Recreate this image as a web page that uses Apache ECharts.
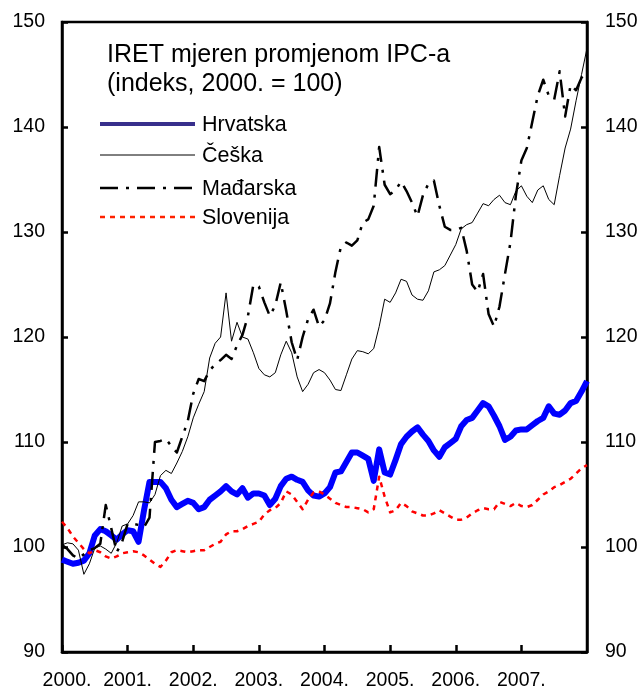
<!DOCTYPE html>
<html>
<head>
<meta charset="utf-8">
<script src="https://cdn.jsdelivr.net/npm/echarts/dist/echarts.min.js"></script>
<style>html,body{margin:0;padding:0;background:#fff}#c{width:641px;height:693px}</style>
</head>
<body>
<div id="c"></div>
<script>
const yearLabels = ['2000.','2001.','2002.','2003.','2004.','2005.','2006.','2007.'];
const yTicks = [90,100,110,120,130,140,150];
const titleLines = ['IRET mjeren promjenom IPC-a','(indeks, 2000. = 100)'];
const seriesNames = ['Hrvatska','Češka','Mađarska','Slovenija'];

const hrvatska = [98.8,98.6,98.4,98.5,98.7,99.4,101.1,101.7,101.5,101.1,100.7,101.2,101.6,101.5,100.5,103.5,
106.2,106.2,106.2,105.6,104.5,103.8,104.1,104.4,104.2,103.6,103.8,104.5,104.9,105.3,105.8,105.3,
105.0,105.6,104.7,105.1,105.1,104.9,104.0,104.6,105.8,106.5,106.7,106.4,106.2,105.4,104.9,104.8,
105.1,105.7,107.1,107.2,108.1,109.0,109.0,108.7,108.4,106.3,109.3,107.1,106.9,108.3,109.8,110.5,
111.0,111.4,110.7,110.1,109.2,108.6,109.5,109.9,110.3,111.5,112.1,112.3,113.0,113.7,113.4,112.5,
111.5,110.2,110.5,111.1,111.2,111.2,111.6,112.0,112.3,113.4,112.7,112.6,113.0,113.7,113.9,114.8,115.8];

const ceska = [100.2,100.4,100.3,99.7,97.4,98.4,99.9,100.1,99.8,99.4,100.4,102.0,102.2,103.0,104.3,104.3,
104.2,105.0,106.8,107.3,107.0,108.0,109.1,110.5,112.3,113.6,114.8,118.0,119.4,120.0,124.2,119.6,
121.4,120.0,119.8,118.5,117.0,116.4,116.2,116.6,118.3,119.6,118.5,116.2,114.8,115.5,116.6,116.9,
116.6,115.9,115.0,114.9,116.4,117.9,118.7,118.6,118.4,118.9,121.0,123.6,123.3,124.2,125.5,125.3,
124.0,123.6,123.5,124.4,126.2,126.4,126.8,127.8,128.8,130.3,130.7,130.9,131.8,132.7,132.5,133.1,
133.5,132.8,132.6,133.9,134.4,133.4,132.8,134.0,134.4,133.1,132.6,135.4,138.0,139.8,142.5,145.0,147.5];

const madarska = [100.2,99.8,99.2,98.9,99.3,99.7,99.9,100.3,104.0,101.8,99.5,100.5,102.2,102.2,102.1,101.9,
102.8,110.0,110.1,110.3,109.6,109.0,110.5,112.0,114.6,116.0,115.8,116.8,117.4,117.8,118.3,117.9,
119.2,120.2,122.0,125.0,124.8,123.3,122.0,123.0,125.2,122.5,119.5,117.8,120.0,121.7,122.6,121.0,
121.6,123.2,126.2,128.6,129.0,128.7,129.2,130.9,131.2,132.5,138.1,134.5,133.6,134.0,134.8,133.9,
132.8,131.5,133.5,134.6,134.9,132.5,130.5,130.2,130.2,130.4,128.2,125.0,124.3,126.0,122.2,121.0,
122.9,126.0,129.0,133.5,136.8,138.0,140.5,143.0,144.5,143.0,142.6,145.3,141.0,144.0,143.5,144.7,145.3];

const slovenija = [102.4,101.8,101.0,100.4,99.8,99.4,99.7,99.5,99.1,98.9,99.1,99.4,99.5,99.6,99.5,99.2,
98.8,98.4,98.1,98.7,99.5,99.7,99.6,99.5,99.6,99.7,99.7,100.0,100.3,100.5,101.2,101.5,
101.5,101.7,102.0,102.2,102.4,103.1,103.5,103.7,104.2,105.3,105.0,104.3,103.6,104.5,105.2,105.3,
105.0,104.6,104.2,104.0,103.8,103.8,103.7,103.6,103.3,103.6,106.7,104.8,103.3,103.5,104.2,103.9,
103.4,103.2,103.0,103.0,103.2,103.5,103.2,102.9,102.6,102.6,102.8,103.2,103.5,103.7,103.6,103.6,
104.3,104.1,103.9,104.2,103.9,103.8,104.0,104.5,105.0,105.3,105.7,105.9,106.2,106.5,107.0,107.5,107.8];

const toPairs = arr => arr.map((v, i) => [i, v]);

const FONT = '"Liberation Sans", Arial, sans-serif';
const styles = [
  {color:'#0000ff', width:6, type:'solid', legendColor:'#382f8c', legendWidth:4},
  {color:'#000000', width:1, type:'solid', legendColor:'#000000', legendWidth:1},
  {color:'#000000', width:2.5, type:[18,8,3,8], legendColor:'#000000', legendWidth:2.5},
  {color:'#ff0000', width:2.5, type:[5,5], legendColor:'#ff2200', legendWidth:2.5}
];
const dataSets = [hrvatska, ceska, madarska, slovenija];
const legendY = [124, 155, 188, 217];

const chart = echarts.init(document.getElementById('c'), null, {renderer:'canvas'});

const yAxisCommon = {
  type:'value', min:90, max:150, interval:10,
  axisLine:{show:true, lineStyle:{color:'#000', width:2.5}},
  axisTick:{show:true, inside:true, length:6, lineStyle:{color:'#000', width:2.5}},
  splitLine:{show:false},
  axisLabel:{color:'#000', fontSize:19.5, fontFamily:FONT}
};

const graphics = [];
seriesNames.forEach((name, k) => {
  graphics.push({
    type:'line', shape:{x1:100, y1:legendY[k], x2:195, y2:legendY[k]},
    style:{stroke:styles[k].legendColor, lineWidth:styles[k].legendWidth,
      lineDash: Array.isArray(styles[k].type) ? styles[k].type : null}
  });
  graphics.push({
    type:'text', x:202, y:legendY[k] + 1,
    style:{text:name, fill:'#000', font:'21.5px ' + FONT, verticalAlign:'middle', align:'left'}
  });
});

chart.setOption({
  animation:false,
  backgroundColor:'#fff',
  title:{
    text: titleLines.join('\n'),
    left:107, top:41, padding:0,
    textStyle:{fontSize:25, fontWeight:'normal', color:'#000', fontFamily:FONT, lineHeight:29}
  },
  grid:{left:62, right:54, top:22, bottom:41, show:true, borderColor:'#000', borderWidth:2.5, backgroundColor:'transparent'},
  xAxis:{
    type:'value', min:0, max:96, interval:12,
    axisLine:{show:true, lineStyle:{color:'#000', width:2.5}},
    axisTick:{show:true, inside:true, length:7, lineStyle:{color:'#000', width:2.5}},
    splitLine:{show:false},
    axisLabel:{
      color:'#000', fontSize:19.5, fontFamily:FONT, margin:19, showMaxLabel:false,
      formatter: v => { const i = Math.round(v/12); if (i >= yearLabels.length) return ''; return i === 0 ? '{f|' + yearLabels[i] + '}' : yearLabels[i]; },
      rich:{f:{fontSize:19.5, fontFamily:FONT, color:'#000', padding:[0,0,0,10]}}
    }
  },
  yAxis:[
    Object.assign({}, yAxisCommon, {position:'left', axisLabel:Object.assign({}, yAxisCommon.axisLabel, {margin:17})}),
    Object.assign({}, yAxisCommon, {position:'right', axisLabel:Object.assign({}, yAxisCommon.axisLabel, {margin:18})})
  ],
  series: seriesNames.map((name, k) => ({
    name, type:'line', data: toPairs(dataSets[k]), symbol:'none', smooth:false,
    lineStyle:{color:styles[k].color, width:styles[k].width, type:styles[k].type, join:'round'},
    z: 2 + k
  })),
  graphic: graphics
});
</script>
</body>
</html>
